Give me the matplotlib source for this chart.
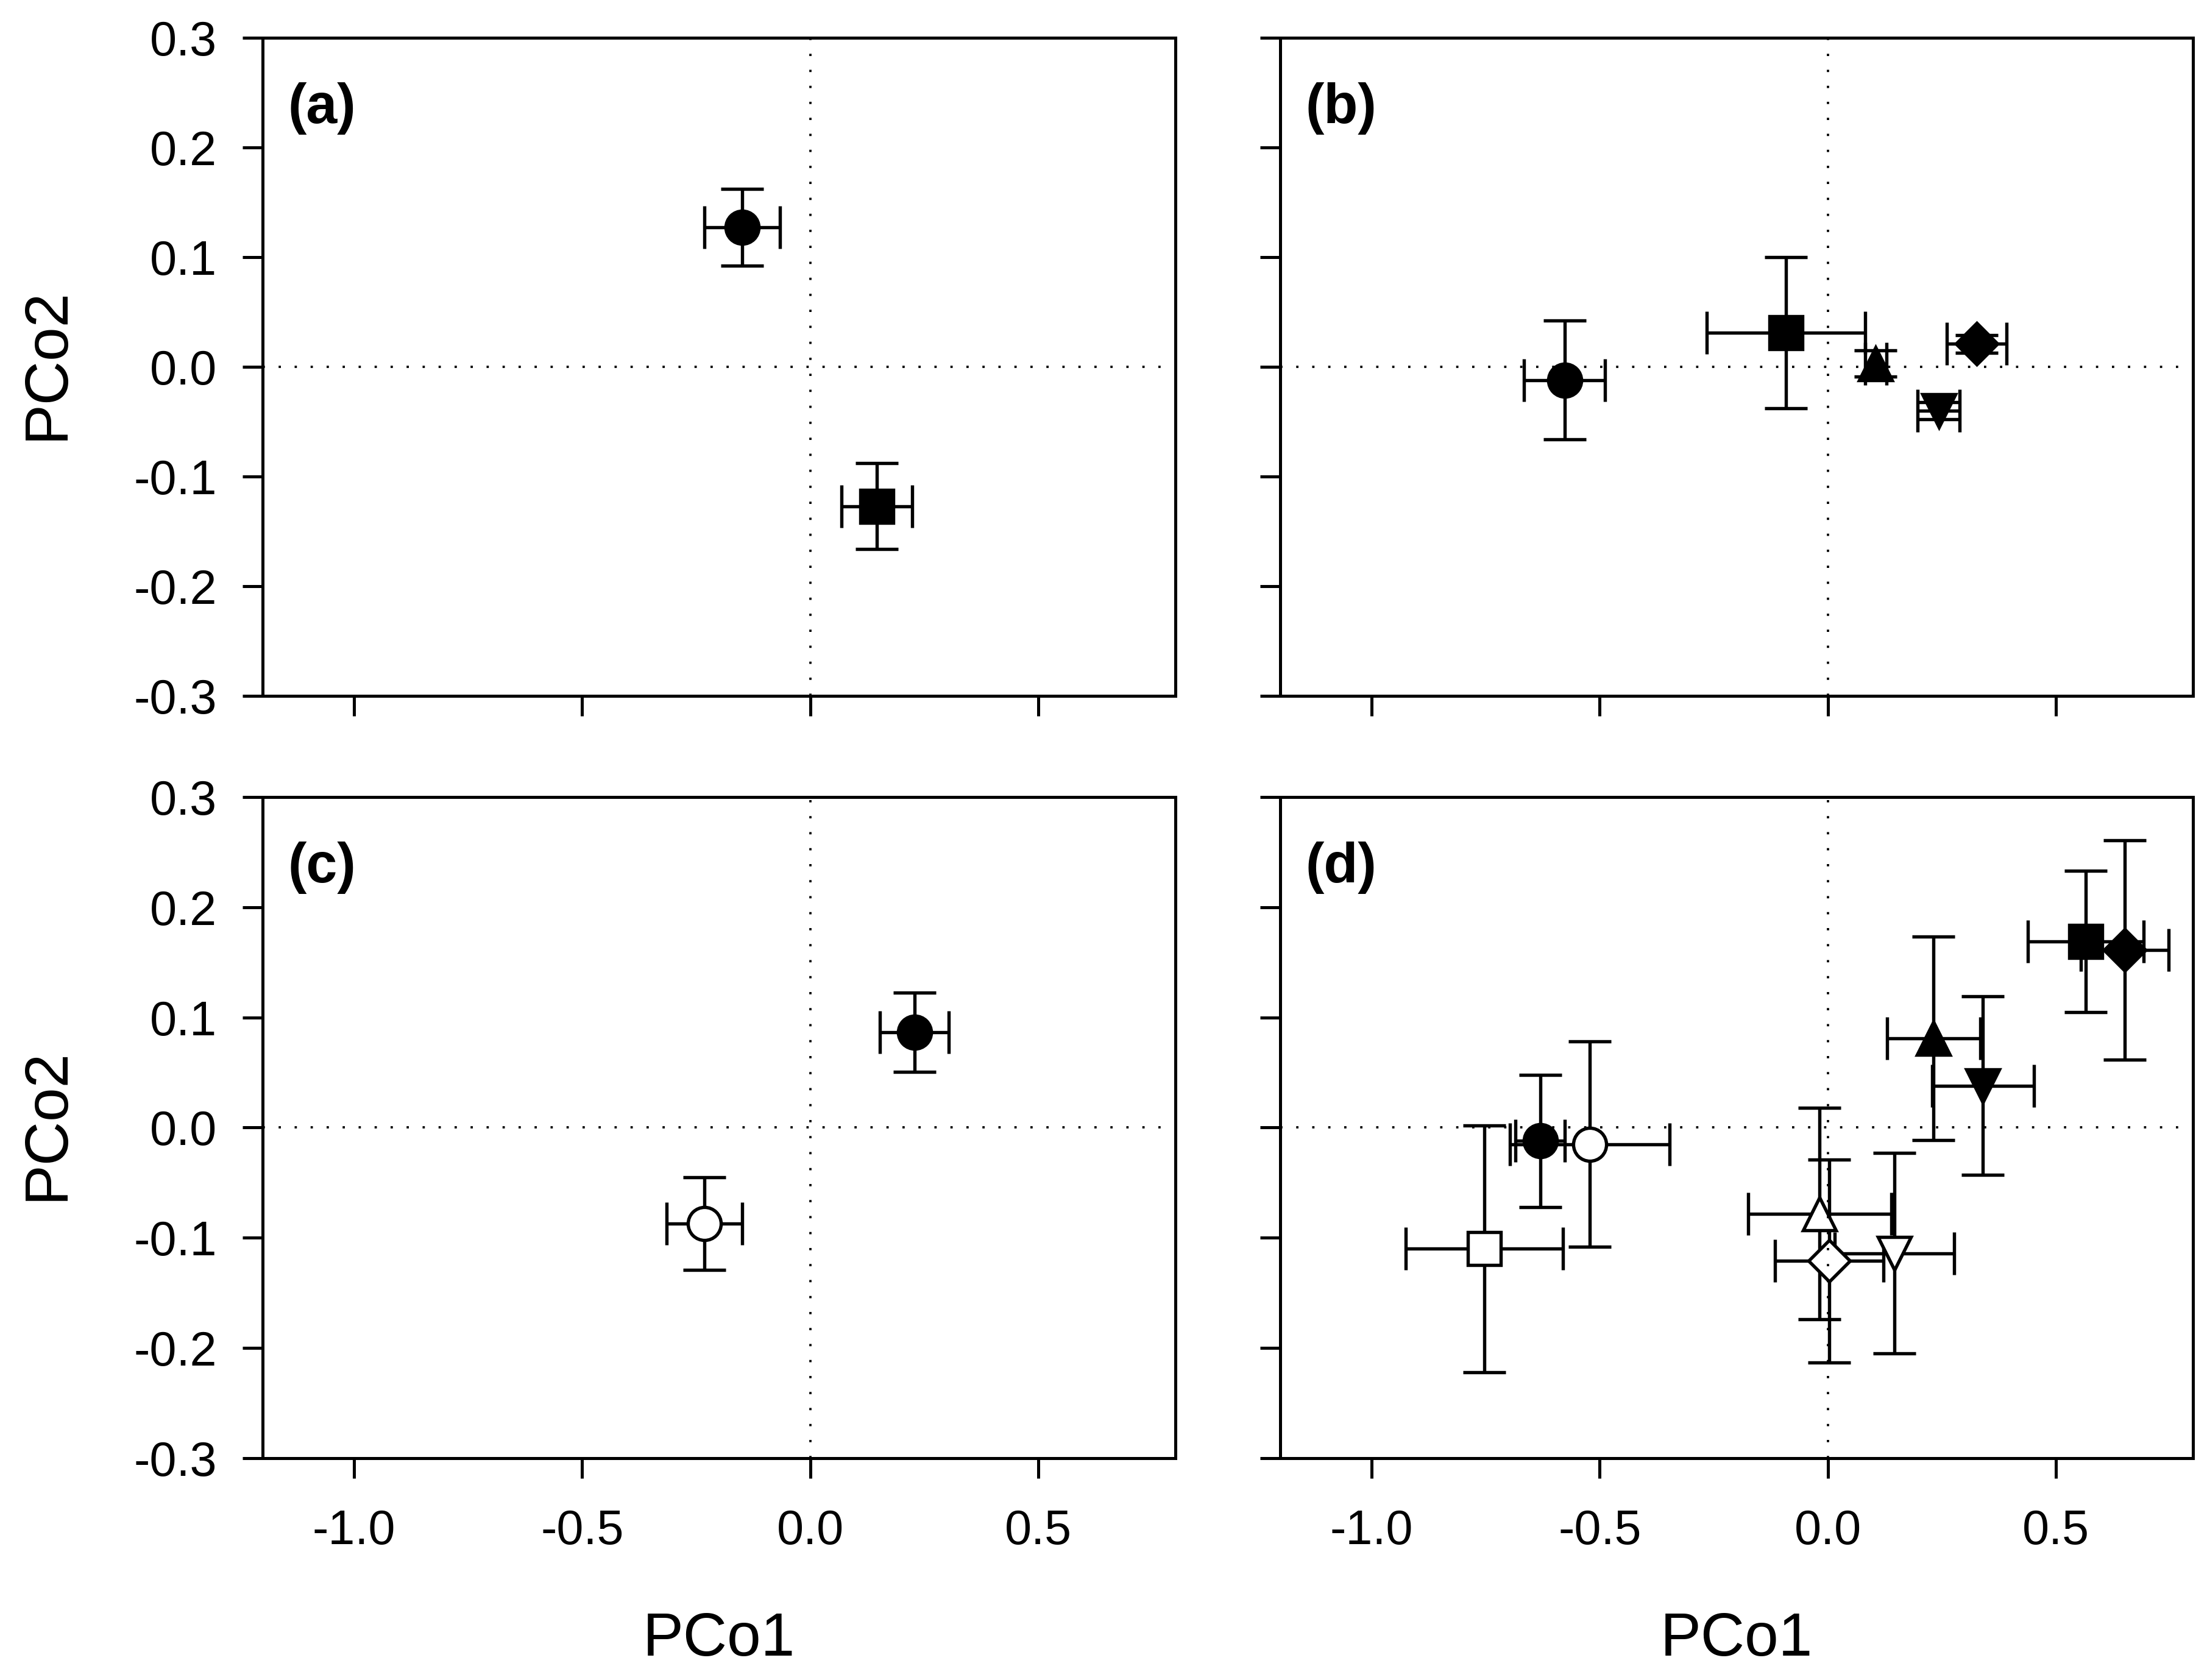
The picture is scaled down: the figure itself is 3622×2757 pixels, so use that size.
import matplotlib
matplotlib.use("Agg")
import matplotlib.pyplot as plt
from matplotlib.ticker import FormatStrFormatter

plt.rcParams['font.family'] = ['Liberation Sans', 'DejaVu Sans']
plt.rcParams['axes.unicode_minus'] = False

# panel (a)
a_x = [-0.149, 0.146]
a_y = [0.127, -0.127]
a_xerr = [0.083, 0.077]
a_yerr = [0.035, 0.039]
a_mk = ['o', 's']
a_fill = [True, True]

# panel (b)
b_x = [-0.577, -0.092, 0.105, 0.243, 0.326]
b_y = [-0.012, 0.031, 0.003, -0.040, 0.021]
b_xerr = [0.089, 0.174, 0.023, 0.046, 0.065]
b_yerr = [0.054, 0.069, 0.012, 0.008, 0.008]
b_mk = ['o', 's', '^', 'v', 'D']
b_fill = [True, True, True, True, True]

# panel (c)
c_x = [0.228, -0.232]
c_y = [0.0865, -0.087]
c_xerr = [0.075, 0.083]
c_yerr = [0.036, 0.042]
c_mk = ['o', 'o']
c_fill = [True, False]

# panel (d)
d_x = [-0.630, 0.565, 0.2315, 0.340, 0.651,
       -0.522, -0.753, -0.018, 0.146, 0.003]
d_y = [-0.012, 0.169, 0.081, 0.038, 0.161,
       -0.015, -0.110, -0.078, -0.114, -0.121]
d_xerr = [0.054, 0.127, 0.102, 0.112, 0.096,
          0.175, 0.172, 0.157, 0.131, 0.119]
d_yerr = [0.060, 0.064, 0.0925, 0.081, 0.0995,
          0.093, 0.112, 0.096, 0.091, 0.092]
d_mk = ['o', 's', '^', 'v', 'D', 'o', 's', '^', 'v', 'D']
d_fill = [True] * 5 + [False] * 5

x_ticks = [-1.0, -0.5, 0.0, 0.5]
y_ticks = [-0.3, -0.2, -0.1, 0.0, 0.1, 0.2, 0.3]

W, H = 3622, 2757
fig = plt.figure(figsize=(W / 300, H / 300), dpi=300)

lefts = [431 / W, 2101 / W]
width = 1498 / W
bottoms = [1 - 1142 / H, 1 - 2393 / H]
heights = [1080 / H, 1085 / H]

panels = [
    ('(a)', a_x, a_y, a_xerr, a_yerr, a_mk, a_fill, 0, 0),
    ('(b)', b_x, b_y, b_xerr, b_yerr, b_mk, b_fill, 0, 1),
    ('(c)', c_x, c_y, c_xerr, c_yerr, c_mk, c_fill, 1, 0),
    ('(d)', d_x, d_y, d_xerr, d_yerr, d_mk, d_fill, 1, 1),
]

for lab, xs, ys, xe, ye, mks, fills, r, c in panels:
    ax = fig.add_axes([lefts[c], bottoms[r], width, heights[r]])
    ax.set_xlim(-1.2, 0.8)
    ax.set_ylim(-0.3, 0.3)
    ax.axhline(0, color='black', lw=0.9, ls=(0, (1, 6)), zorder=5)
    ax.axvline(0, color='black', lw=0.9, ls=(0, (1, 6)), zorder=5)
    for i in range(len(xs)):
        ms = 11.5 if mks[i] == 'D' else 13
        ax.errorbar(xs[i], ys[i], xerr=xe[i], yerr=ye[i], fmt=mks[i],
                    ms=ms, mfc='black' if fills[i] else 'white',
                    mec='black', mew=1.3, ecolor='black', elinewidth=1.3,
                    capsize=8.5, capthick=1.3)
    ax.set_xticks(x_ticks)
    ax.set_yticks(y_ticks)
    ax.xaxis.set_major_formatter(FormatStrFormatter('%.1f'))
    ax.yaxis.set_major_formatter(FormatStrFormatter('%.1f'))
    ax.tick_params(direction='out', length=8, width=1.2, labelsize=19)
    ax.tick_params(axis='x', pad=12)
    ax.tick_params(axis='y', pad=10)
    for sp in ax.spines.values():
        sp.set_linewidth(1.2)
    if r == 0:
        ax.tick_params(axis='x', labelbottom=False)
    else:
        ax.set_xlabel('PCo1', fontsize=24)
        ax.xaxis.set_label_coords(0.5, -0.275)
        ax.xaxis.label.set_va('center')
    if c == 1:
        ax.tick_params(axis='y', labelleft=False)
    else:
        ax.set_ylabel('PCo2', fontsize=24)
        ax.yaxis.set_label_coords(-0.236, 0.505)
        ax.yaxis.label.set_va('center')
    ax.text(0.028, 0.893, lab, transform=ax.transAxes, fontsize=22,
            fontweight='bold', va='center', ha='left')

fig.savefig('out.png', dpi=300)
